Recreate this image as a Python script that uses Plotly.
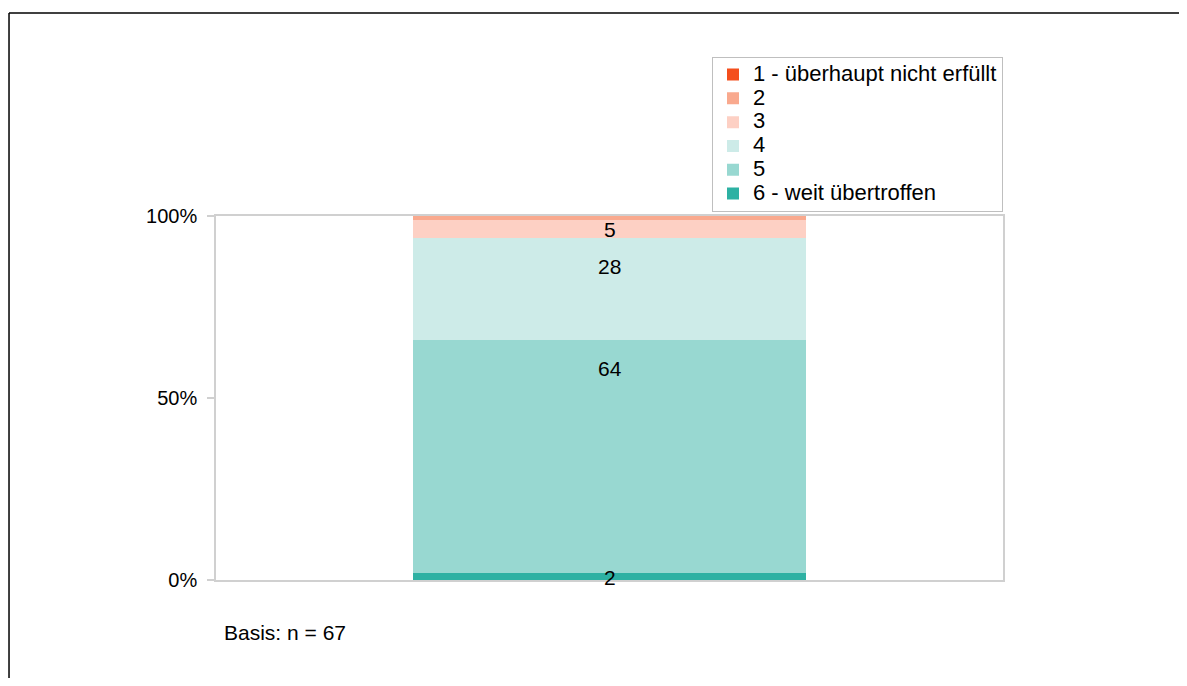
import plotly.graph_objects as go

categories = ["Gesamt"]
series_names = ["6 - weit übertroffen", "5", "4", "3", "2", "1 - überhaupt nicht erfüllt"]
series_values = [2, 64, 28, 5, 1, 0]
series_colors = ["#2DB1A3", "#98D8D1", "#CDEBE8", "#FDD0C4", "#F9A98E", "#F44E1C"]
tick_values = [0, 50, 100]
tick_labels = ["0%", "50%", "100%"]
basis_text = "Basis: n = 67"

FONT = "Liberation Sans, Arial, sans-serif"

fig = go.Figure()
for name, val, col in zip(series_names, series_values, series_colors):
    fig.add_trace(go.Bar(
        x=categories, y=[val],
        name='<span style="font-size:22px">' + name + '</span>',
        marker=dict(color=col, line=dict(width=0)),
        hoverinfo="skip",
    ))

# data labels (Excel "inside end"-like)
cum = 0
annotations = []
for val in series_values:
    bottom = cum
    cum += val
    if val >= 2:
        if val >= 10:
            annotations.append(dict(x=categories[0], y=cum, xref="x", yref="y", text=str(val),
                                    showarrow=False, yanchor="top", yshift=-15,
                                    font=dict(size=21, color="#000000", family=FONT)))
        else:
            annotations.append(dict(x=categories[0], y=(bottom + cum) / 2, xref="x", yref="y", text=str(val),
                                    showarrow=False, yanchor="middle", yshift=-1,
                                    font=dict(size=21, color="#000000", family=FONT)))

annotations.append(dict(x=0.007, y=-0.145, xref="paper", yref="paper", text=basis_text,
                        showarrow=False, xanchor="left", yanchor="middle",
                        font=dict(size=21, color="#000000", family=FONT)))

fig.update_layout(
    width=1171, height=670,
    barmode="stack", bargap=0.5,
    paper_bgcolor="white", plot_bgcolor="white",
    margin=dict(l=208, r=176, t=208, b=98, autoexpand=False),
    font=dict(family=FONT, size=20, color="#000000"),
    showlegend=True,
    legend=dict(
        x=1, xanchor="right", y=1.012, yanchor="bottom",
        traceorder="reversed",
        bgcolor="white", bordercolor="#BFBFBF", borderwidth=1,
        font=dict(size=16, family=FONT, color="#000000"),
        itemclick=False, itemdoubleclick=False,
        tracegroupgap=0,
    ),
    annotations=annotations,
    shapes=[
        dict(type="line", xref="paper", yref="paper", x0=-0.263, x1=-0.263, y0=-0.4, y1=1.5577,
             line=dict(color="#000000", width=1.5)),
        dict(type="line", xref="paper", yref="paper", x0=-0.263, x1=1.4, y0=1.5577, y1=1.5577,
             line=dict(color="#000000", width=1.5)),
    ],
)
fig.update_xaxes(showline=True, linecolor="#D0D0D0", linewidth=1.5, mirror=True,
                 showticklabels=False, ticks="", showgrid=False, zeroline=False)
fig.update_yaxes(range=[0, 100], tickvals=tick_values, ticktext=tick_labels,
                 showline=True, linecolor="#D0D0D0", linewidth=1.5, mirror=True,
                 ticks="outside", ticklen=7, tickcolor="#D0D0D0", tickwidth=1.5,
                 ticklabelstandoff=6,
                 showgrid=False, zeroline=False, tickfont=dict(size=20, family=FONT))

fig.write_html("out.html")
